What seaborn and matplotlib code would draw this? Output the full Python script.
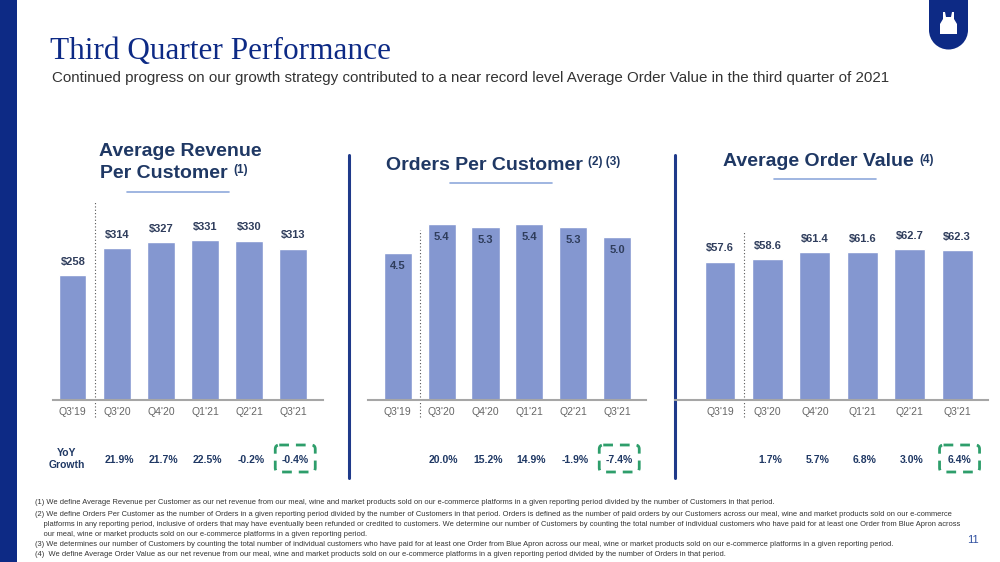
import numpy as np
import pandas as pd
import matplotlib
matplotlib.use("Agg")
import matplotlib.pyplot as plt
import matplotlib.transforms as mtransforms
from matplotlib.patches import FancyBboxPatch, Rectangle, Polygon, Wedge
import seaborn as sns

quarters = ["Q3'19", "Q3'20", "Q4'20", "Q1'21", "Q2'21", "Q3'21"]
revenue_per_customer = [258, 314, 327, 331, 330, 313]
orders_per_customer = [4.5, 5.4, 5.3, 5.4, 5.3, 5.0]
avg_order_value = [57.6, 58.6, 61.4, 61.6, 62.7, 62.3]
yoy_revenue = ["21.9%", "21.7%", "22.5%", "-0.2%", "-0.4%"]
yoy_orders = ["20.0%", "15.2%", "14.9%", "-1.9%", "-7.4%"]
yoy_aov = ["1.7%", "5.7%", "6.8%", "3.0%", "6.4%"]

footnotes = [
    "(1) We define Average Revenue per Customer as our net revenue from our meal, wine and market products sold on our e-commerce platforms in a given reporting period divided by the number of Customers in that period.",
    "(2) We define Orders Per Customer as the number of Orders in a given reporting period divided by the number of Customers in that period. Orders is defined as the number of paid orders by our Customers across our meal, wine and market products sold on our e-commerce",
    "    platforms in any reporting period, inclusive of orders that may have eventually been refunded or credited to customers. We determine our number of Customers by counting the total number of individual customers who have paid for at least one Order from Blue Apron across",
    "    our meal, wine or market products sold on our e-commerce platforms in a given reporting period.",
    "(3) We determines our number of Customers by counting the total number of individual customers who have paid for at least one Order from Blue Apron across our meal, wine or market products sold on our e-commerce platforms in a given reporting period.",
    "(4)  We define Average Order Value as our net revenue from our meal, wine and market products sold on our e-commerce platforms in a given reporting period divided by the number of Orders in that period.",
]

W, H = 1000, 562
navy = "#0d2a85"
title_navy = "#1f3864"
bar_color = "#8497d0"
label_color = "#2f3d5c"
green = "#2e9e6b"
sans = ["Liberation Sans", "DejaVu Sans"]

sns.set_style("white")
plt.rcParams['font.family'] = sans

fig = plt.figure(figsize=(10, 5.62), dpi=100)
fig.patch.set_facecolor("white")

# overlay in pixel coordinates for slide decorations
deco = fig.add_axes([0, 0, 1, 1], zorder=0)
deco.set_xlim(0, W)
deco.set_ylim(H, 0)
deco.axis("off")


def fig_axes(x0, x1, ytop, ybot):
    return fig.add_axes([x0 / W, 1 - ybot / H, (x1 - x0) / W, (ybot - ytop) / H], zorder=2)


deco.add_patch(Rectangle((0, 0), 17, H, color=navy, lw=0))
# logo
deco.add_patch(Rectangle((929, 0), 39, 31, color=navy, lw=0))
deco.add_patch(Wedge((948.5, 30), 19.5, 0, 180, color=navy, lw=0))
deco.add_patch(Polygon([(943, 12), (945, 12), (946, 17), (951, 17), (952, 12), (954, 12), (954, 19),
                        (957, 24), (957, 34), (940, 34), (940, 24), (943, 19)], color="white", lw=0))

deco.text(50, 51, "Third Quarter Performance", fontsize=22.5, color=navy,
          family=["Liberation Serif", "DejaVu Serif"], va="center", ha="left")
deco.text(52, 78, "Continued progress on our growth strategy contributed to a near record level Average Order Value in the third quarter of 2021",
          fontsize=10.9, color="#333333", va="center", ha="left")

panels = [
    dict(values=revenue_per_customer, fmt="${:.0f}", yoy=yoy_revenue, x0=53, x1=323,
         xlim=(-0.45, 5.68), ylim=414, width=0.62, inside=False, dot_top=0.99),
    dict(values=orders_per_customer, fmt="{:.1f}", yoy=yoy_orders, x0=368, x1=646,
         xlim=(-0.68, 5.66), ylim=6.13, width=0.64, inside=True, dot_top=0.85),
    dict(values=avg_order_value, fmt="${:.1f}", yoy=yoy_aov, x0=675, x1=988,
         xlim=(-0.95, 5.65), ylim=83.2, width=0.65, inside=False, dot_top=0.84),
]

for p in panels:
    ax = fig_axes(p["x0"], p["x1"], 200, 400)
    df = pd.DataFrame({"quarter": quarters, "value": p["values"]})
    sns.barplot(data=df, x="quarter", y="value", color=bar_color, saturation=1,
                width=p["width"], ax=ax)
    ax.set_xlim(*p["xlim"])
    ax.set_ylim(0, p["ylim"])
    labels = [p["fmt"].format(v) for v in p["values"]]
    if p["inside"]:
        ax.bar_label(ax.containers[0], labels=labels, padding=-13, fontsize=8,
                     fontweight="bold", color=label_color)
    else:
        ax.bar_label(ax.containers[0], labels=labels, padding=6, fontsize=8,
                     fontweight="bold", color=label_color)
    ax.set_xlabel("")
    ax.set_ylabel("")
    ax.set_yticks([])
    ax.tick_params(axis="x", length=0, pad=5, labelsize=7.5, labelcolor="#666666")
    for s in ["top", "right", "left"]:
        ax.spines[s].set_visible(False)
    ax.spines["bottom"].set_color("#a6a6a6")
    ax.spines["bottom"].set_linewidth(1.5)
    ax.patch.set_alpha(0)
    trans = mtransforms.blended_transform_factory(ax.transData, ax.transAxes)
    ax.plot([0.5, 0.5], [-0.085, p["dot_top"]], transform=trans, clip_on=False,
            color="#555555", lw=0.8, ls=(0, (1, 2)))
    # YoY growth row
    tyoy = mtransforms.blended_transform_factory(ax.transData, deco.transData)
    for i, txt in enumerate(p["yoy"]):
        ax.text(i + 1.05, 460, txt, transform=tyoy, ha="center", va="center",
                fontsize=7.5, fontweight="bold", color=title_navy)
    # dashed highlight box around latest quarter
    xc = deco.transData.inverted().transform(ax.transData.transform((5.05, 0)))[0]
    deco.add_patch(FancyBboxPatch((xc - 17, 448), 34, 21, boxstyle="round,pad=3,rounding_size=4",
                                  fill=False, ec=green, lw=2, ls=(0, (3.5, 2.5))))

# panel titles with superscript footnote markers
tkw = dict(fontsize=14, fontweight="bold", color=title_navy, va="center")


def sup(text_artist, s):
    deco.annotate(s, xy=(1, 1), xycoords=text_artist, xytext=(4, 0), textcoords="offset points",
                  fontsize=8.5, fontweight="bold", color=title_navy, va="top", ha="left")


deco.text(180, 152, "Average Revenue", ha="center", **tkw)
t1 = deco.text(100, 173, "Per Customer", ha="left", **tkw)
sup(t1, "(1)")
t2 = deco.text(386, 165, "Orders Per Customer", ha="left", **tkw)
sup(t2, "(2) (3)")
t3 = deco.text(723, 162, "Average Order Value", ha="left", **tkw)
sup(t3, "(4)")
for x0, x1, y in [(127, 229, 192), (450, 552, 183), (774, 876, 179)]:
    deco.plot([x0, x1], [y, y], color="#8fa9dc", lw=1.2)

# dividers
for x in [349, 675]:
    deco.plot([x, x], [155, 478], color="#1f3a8a", lw=2.2)

deco.text(67, 459, "YoY\nGrowth", ha="center", va="center", fontsize=7.5,
          fontweight="bold", color=title_navy, linespacing=1.3)

for i, line in enumerate(footnotes):
    y = [503, 514, 524, 534, 545, 555][i]
    deco.text(35, y, line, fontsize=5.45, color="#333333", va="center", ha="left")
deco.text(973, 540, "11", fontsize=8, color="#3050a0", va="center", ha="center")

fig.savefig("out.png", dpi=100)
